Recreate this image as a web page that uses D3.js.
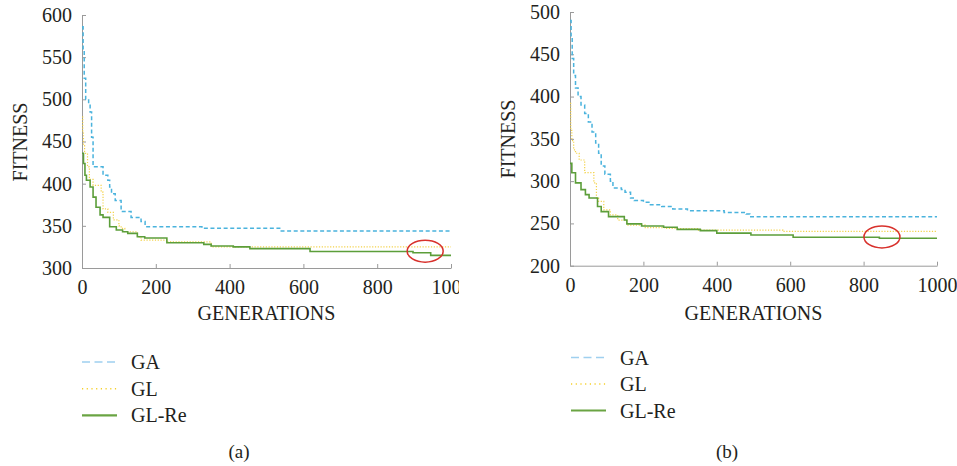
<!DOCTYPE html>
<html>
<head>
<meta charset="utf-8">
<script src="https://cdn.jsdelivr.net/npm/d3@7"></script>
</head>
<body style="margin:0; background:#fff">
<div id="container"></div>
<script>
const width = 957;
const height = 466;
const serif = "Liberation Serif";

// panel (a): [generation, fitness] step points
const gaA = [[0,586],[3,560],[6,525],[10,500],[18,495],[22,485],[26,455],[30,420],[57,410],[70,404],[75,396],[80,388],[90,380],[106,367],[133,360],[160,355],[171,349],[325,347],[540,344],[1000,344]];
const glA = [[0,479],[2,460],[4,445],[7,436],[15,420],[20,405],[30,398],[52,390],[57,370],[70,366],[85,357],[100,350],[106,347],[116,343],[150,337],[160,333],[230,331],[350,325],[1000,325]];
const glReA = [[0,436],[4,424],[8,410],[12,404],[22,396],[30,384],[38,372],[49,363],[57,360],[75,349],[93,345],[110,343],[124,341],[150,337],[170,335.5],[230,330],[330,328],[350,326],[410,325],[455,323],[618,319.5],[897,318],[945,315],[1000,315]];

// panel (b)
const gaB = [[0,490],[3,470],[6,445],[10,425],[15,410],[22,400],[30,390],[40,380],[50,370],[60,358],[70,345],[78,333],[85,318],[95,308],[110,300],[117,292],[140,290],[150,287],[165,280],[175,277],[200,275],[215,272],[250,270],[280,267],[320,265],[400,265],[420,263],[480,261],[490,258],[1000,258]];
const glB = [[0,392],[2,360],[5,348],[10,337],[15,333],[25,325],[40,310],[65,298],[72,280],[78,276],[92,266],[110,260],[130,254],[155,248],[205,245],[260,244],[350,242],[580,240.5],[1000,240.5]];
const glReB = [[0,321],[5,310],[15,298],[30,290],[42,284],[52,280],[75,270],[85,264],[105,258],[148,254],[155,249.5],[195,247],[255,245.5],[292,243],[355,241.5],[400,238.5],[493,236.3],[608,233.6],[843,232.4],[1000,232.4]];

const xTicks = [0, 200, 400, 600, 800, 1000];
const yTicksA = [300, 350, 400, 450, 500, 550, 600];
const yTicksB = [200, 250, 300, 350, 400, 450, 500];
const seriesNames = ["GA", "GL", "GL-Re"];
const markA = [930, 320]; // red circle (generation, fitness)
const markB = [850, 234];

const svg = d3.select("#container")
              .append("svg")
              .attr("width", width)
              .attr("height", height);

svg.append("clipPath")
   .attr("id", "clipA")
   .append("rect")
   .attr("x", 0).attr("y", 0)
   .attr("width", 459).attr("height", height);

const styles = [
  {color: "#4ab3dd", legendColor: "#9fd0ef", width: 1.5, dash: "4,2.6", legendDash: "8,4.5"},
  {color: "#f3d24a", legendColor: "#f5d02a", width: 1.2, dash: "1.2,1.6", legendDash: "1.2,3.5"},
  {color: "#5c9e3a", legendColor: "#6aa443", width: 1.6, dash: null, legendDash: null}
];

const label = (sel, size) => sel.attr("font-family", serif).attr("font-size", size).attr("fill", "#231f20");

const drawPanel = (opts) => {
  const g = svg.append("g");
  if (opts.clip) g.attr("clip-path", "url(#" + opts.clip + ")");

  const x = d3.scaleLinear().domain([0, 1000]).range(opts.xRange);
  const y = d3.scaleLinear().domain([opts.yTicks[0], opts.yTicks[opts.yTicks.length - 1]]).range(opts.yRange);

  const xAxis = g.append("g")
                 .attr("transform", "translate(0," + opts.yRange[0] + ")")
                 .call(d3.axisBottom(x).tickValues(xTicks).tickFormat(d3.format("d")).tickSizeInner(-4).tickSizeOuter(0).tickPadding(12));
  const yAxis = g.append("g")
                 .attr("transform", "translate(" + opts.xRange[0] + ",0)")
                 .call(d3.axisLeft(y).tickValues(opts.yTicks).tickFormat(d3.format("d")).tickSizeInner(-4).tickSizeOuter(0).tickPadding(10));
  [xAxis, yAxis].forEach(a => {
    a.attr("font-family", serif).attr("font-size", 20);
    a.select(".domain").attr("stroke", "#9a9a9a");
    a.selectAll(".tick line").attr("stroke", "#9a9a9a");
    label(a.selectAll(".tick text"), 20);
  });
  xAxis.selectAll(".tick text").attr("dy", "0.71em");

  g.append("text")
   .attr("x", (opts.xRange[0] + opts.xRange[1]) / 2)
   .attr("y", 320)
   .attr("text-anchor", "middle")
   .call(label, 20)
   .text("GENERATIONS");
  g.append("text")
   .attr("transform", "translate(" + (opts.xRange[0] - 55) + "," + opts.fitY + ") rotate(-90)")
   .attr("text-anchor", "middle")
   .call(label, 20)
   .text("FITNESS");

  const line = d3.line()
                 .x(d => x(d[0]))
                 .y(d => y(d[1]))
                 .curve(d3.curveStepAfter);
  opts.series.forEach((s, i) => {
    g.append("path")
     .datum(s)
     .attr("d", line)
     .attr("fill", "none")
     .attr("stroke", styles[i].color)
     .attr("stroke-width", styles[i].width)
     .attr("stroke-dasharray", styles[i].dash);
  });

  g.append("ellipse")
   .attr("cx", x(opts.mark[0]))
   .attr("cy", y(opts.mark[1]))
   .attr("rx", 18)
   .attr("ry", 11)
   .attr("fill", "none")
   .attr("stroke", "#d8312c")
   .attr("stroke-width", 1.5);

  // legend
  const lg = svg.append("g");
  seriesNames.forEach((name, i) => {
    const ly = opts.legendY + i * opts.legendStep;
    lg.append("line")
      .attr("x1", opts.legendX).attr("x2", opts.legendX + 35)
      .attr("y1", ly).attr("y2", ly)
      .attr("stroke", styles[i].legendColor)
      .attr("stroke-width", i === 2 ? 2.2 : 1.6)
      .attr("stroke-dasharray", styles[i].legendDash);
    lg.append("text")
      .attr("x", opts.legendX + 49)
      .attr("y", ly + 7)
      .call(label, 20)
      .text(name);
  });
  lg.append("text")
    .attr("x", opts.captionX)
    .attr("y", 458)
    .attr("text-anchor", "middle")
    .call(label, 19)
    .text(opts.caption);
};

drawPanel({
  xRange: [82, 451], yRange: [268, 15], yTicks: yTicksA, fitY: 142,
  series: [gaA, glA, glReA], mark: markA, clip: "clipA",
  legendX: 82, legendY: 362, legendStep: 26.7, captionX: 239, caption: "(a)"
});
drawPanel({
  xRange: [570, 937], yRange: [265.7, 12], yTicks: yTicksB, fitY: 139,
  series: [gaB, glB, glReB], mark: markB, clip: null,
  legendX: 571, legendY: 357.5, legendStep: 26.5, captionX: 727, caption: "(b)"
});
</script>
</body>
</html>
